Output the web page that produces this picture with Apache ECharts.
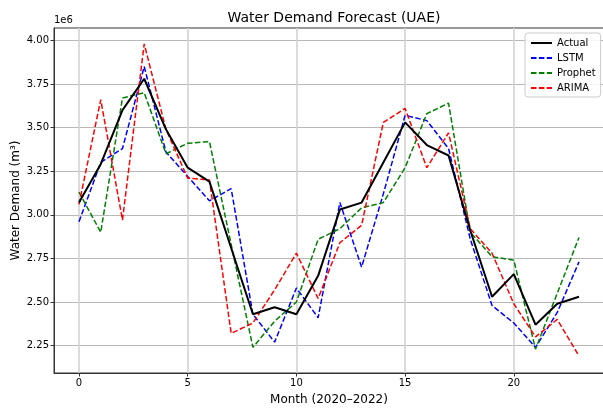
<!DOCTYPE html>
<html>
<head>
<meta charset="utf-8">
<script src="https://cdn.jsdelivr.net/npm/echarts@6/dist/echarts.min.js"></script>
<style>html,body{margin:0;padding:0;background:#fff}#c{width:603px;height:410px}</style>
</head>
<body>
<div id="c"></div>
<script>
// values in units of 1e6 m³
var months = [0,1,2,3,4,5,6,7,8,9,10,11,12,13,14,15,16,17,18,19,20,21,22,23];
var actual  = [3.07,3.29,3.60,3.78,3.49,3.27,3.19,2.81,2.43,2.47,2.43,2.65,3.03,3.07,3.30,3.53,3.40,3.34,2.91,2.53,2.66,2.37,2.49,2.53];
var lstm    = [2.96,3.30,3.38,3.85,3.36,3.22,3.08,3.15,2.43,2.27,2.58,2.41,3.07,2.70,3.12,3.57,3.54,3.38,2.86,2.48,2.38,2.24,2.44,2.73];
var prophet = [3.13,2.90,3.67,3.70,3.35,3.41,3.42,2.83,2.24,2.39,2.50,2.86,2.92,3.04,3.07,3.27,3.58,3.64,2.90,2.76,2.74,2.23,2.55,2.87];
var arima   = [3.06,3.66,2.97,3.98,3.49,3.21,3.20,2.32,2.38,2.57,2.78,2.52,2.84,2.94,3.53,3.61,3.27,3.47,2.92,2.78,2.49,2.30,2.40,2.19];
var xTicks = [0,5,10,15,20];
var yTicks = [2.25,2.50,2.75,3.00,3.25,3.50,3.75,4.00];
var seriesNames = ['Actual','LSTM','Prophet','ARIMA'];

function pairs(arr){ return months.map(function(m,i){ return [m, arr[i]]; }); }
var font = 'DejaVu Sans';
var chart = echarts.init(document.getElementById('c'), null, {renderer:'canvas'});
function dashed(name, arr, color){
  return {name:name, type:'line', data:pairs(arr), symbol:'none', z:3,
    lineStyle:{color:color, width:1.5, type:[5.5,2.4]}, itemStyle:{color:color}};
}
chart.setOption({
  animation:false,
  backgroundColor:'#fff',
  title:{text:'Water Demand Forecast (UAE)', left:329, textAlign:'center', top:6,
    textStyle:{fontFamily:font, fontSize:14, fontWeight:'normal', color:'#000'}},
  graphic:[{type:'text', left:54, top:15, style:{text:'1e6', font:'10px "DejaVu Sans"', fill:'#000'}}],
  legend:{orient:'vertical', left:525, top:33, data:seriesNames,
    backgroundColor:'rgba(255,255,255,0.85)', borderColor:'#cccccc', borderWidth:1, borderRadius:3,
    padding:[5,5,4,5], itemWidth:21, itemHeight:10, itemGap:5,
    itemStyle:{opacity:0},
    textStyle:{fontFamily:font, fontSize:10, color:'#000'}},
  grid:{left:54, right:-1, top:28, bottom:37, show:true, borderColor:'#333', borderWidth:1,
    containLabel:false, outerBoundsMode:'none'},
  xAxis:{type:'value', min:-1.15, max:24.15,
    name:'Month (2020–2022)', nameLocation:'middle', nameGap:21, nameMoveOverlap:false,
    nameTextStyle:{fontFamily:font, fontSize:12, color:'#000'},
    axisLine:{show:true, onZero:false, lineStyle:{color:'#333', width:1}},
    axisTick:{show:true, length:3.5, customValues:xTicks, lineStyle:{color:'#333'}},
    axisLabel:{customValues:xTicks, fontFamily:font, fontSize:10, color:'#000', margin:5},
    splitLine:{show:true, lineStyle:{color:'#d2d2d2', width:1.6}}},
  yAxis:{type:'value', min:2.093, max:4.071,
    name:'Water Demand (m³)', nameLocation:'middle', nameGap:32, nameMoveOverlap:false,
    nameTextStyle:{fontFamily:font, fontSize:12, color:'#000'},
    axisLine:{show:true, onZero:false, lineStyle:{color:'#333', width:1}},
    axisTick:{show:true, length:3.5, customValues:yTicks, lineStyle:{color:'#333'}},
    axisLabel:{customValues:yTicks, fontFamily:font, fontSize:10, color:'#000', margin:5,
      formatter:function(v){ return v.toFixed(2); }},
    splitLine:{show:true, lineStyle:{color:'#b8b8b8', width:1}}},
  series:[
    {name:'Actual', type:'line', data:pairs(actual), symbol:'none', z:4,
      lineStyle:{color:'#000', width:2}, itemStyle:{color:'#000'}},
    dashed('LSTM', lstm, '#0000ff'),
    dashed('Prophet', prophet, '#008000'),
    dashed('ARIMA', arima, '#ff0000')
  ]
});
</script>
</body>
</html>
